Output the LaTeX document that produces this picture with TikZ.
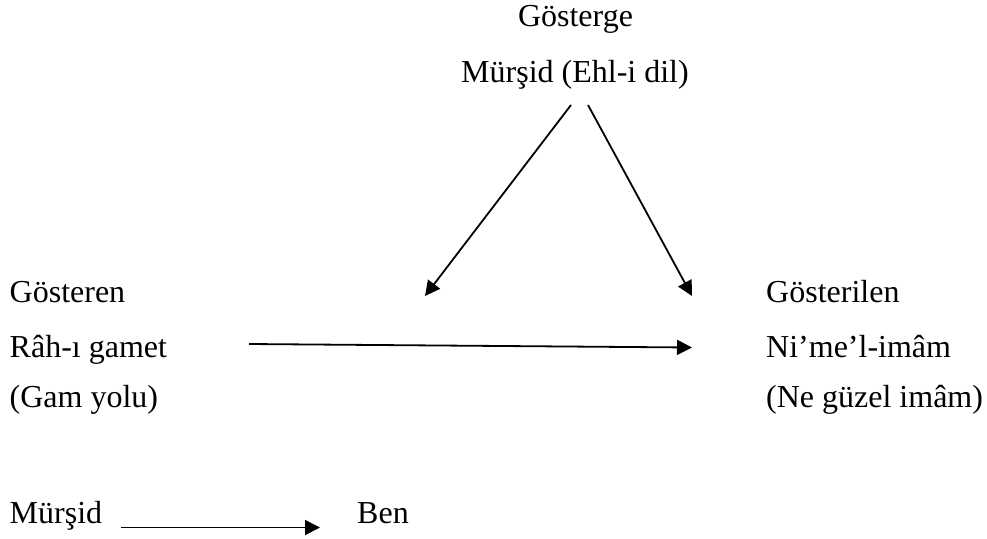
\documentclass[tikz,border=0pt]{standalone}
\usepackage{fontspec}
\setmainfont{Liberation Serif}
\usetikzlibrary{arrows.meta}
\begin{document}
\begin{tikzpicture}[x=1pt,y=-1pt,
  lbl/.style={inner sep=0pt,font=\fontsize{32}{38}\selectfont},
  arr/.style={line width=1.8pt,-{Triangle[length=15pt,width=15pt]}}]
\useasboundingbox (0,0) rectangle (987,538);
% top
\node[lbl,anchor=base] (sign) at (575.5,27) {Gösterge};
\node[lbl,anchor=base] (murshidtop) at (575,82) {Mürşid (Ehl-i dil)};
% left column
\node[lbl,anchor=base west] (gosteren) at (9.5,302) {Gösteren};
\node[lbl,anchor=base west] (rah) at (9.5,357) {Râh-ı gamet};
\node[lbl,anchor=base west] (gam) at (9.5,407) {(Gam yolu)};
% right column
\node[lbl,anchor=base west] (gosterilen) at (766,302) {Gösterilen};
\node[lbl,anchor=base west] (nime) at (766,357) {Ni’me’l-imâm};
\node[lbl,anchor=base west] (negz) at (766,407) {(Ne güzel imâm)};
% bottom
\node[lbl,anchor=base west] (murshid) at (9.5,523) {Mürşid};
\node[lbl,anchor=base west] (ben) at (357,523) {Ben};
% connector ends
\coordinate (s1) at (571,105);
\coordinate (e1) at (425,296);
\coordinate (s2) at (588,105);
\coordinate (e2) at (692,296);
\coordinate (s3) at (249,344);
\coordinate (e3) at (692,347.5);
\coordinate (s4) at (121,527.5);
\coordinate (e4) at (320,527.5);
\draw[arr] (s1) -- (e1);
\draw[arr] (s2) -- (e2);
\draw[arr] (s3) -- (e3);
\draw[arr] (s4) -- (e4);
\end{tikzpicture}
\end{document}
